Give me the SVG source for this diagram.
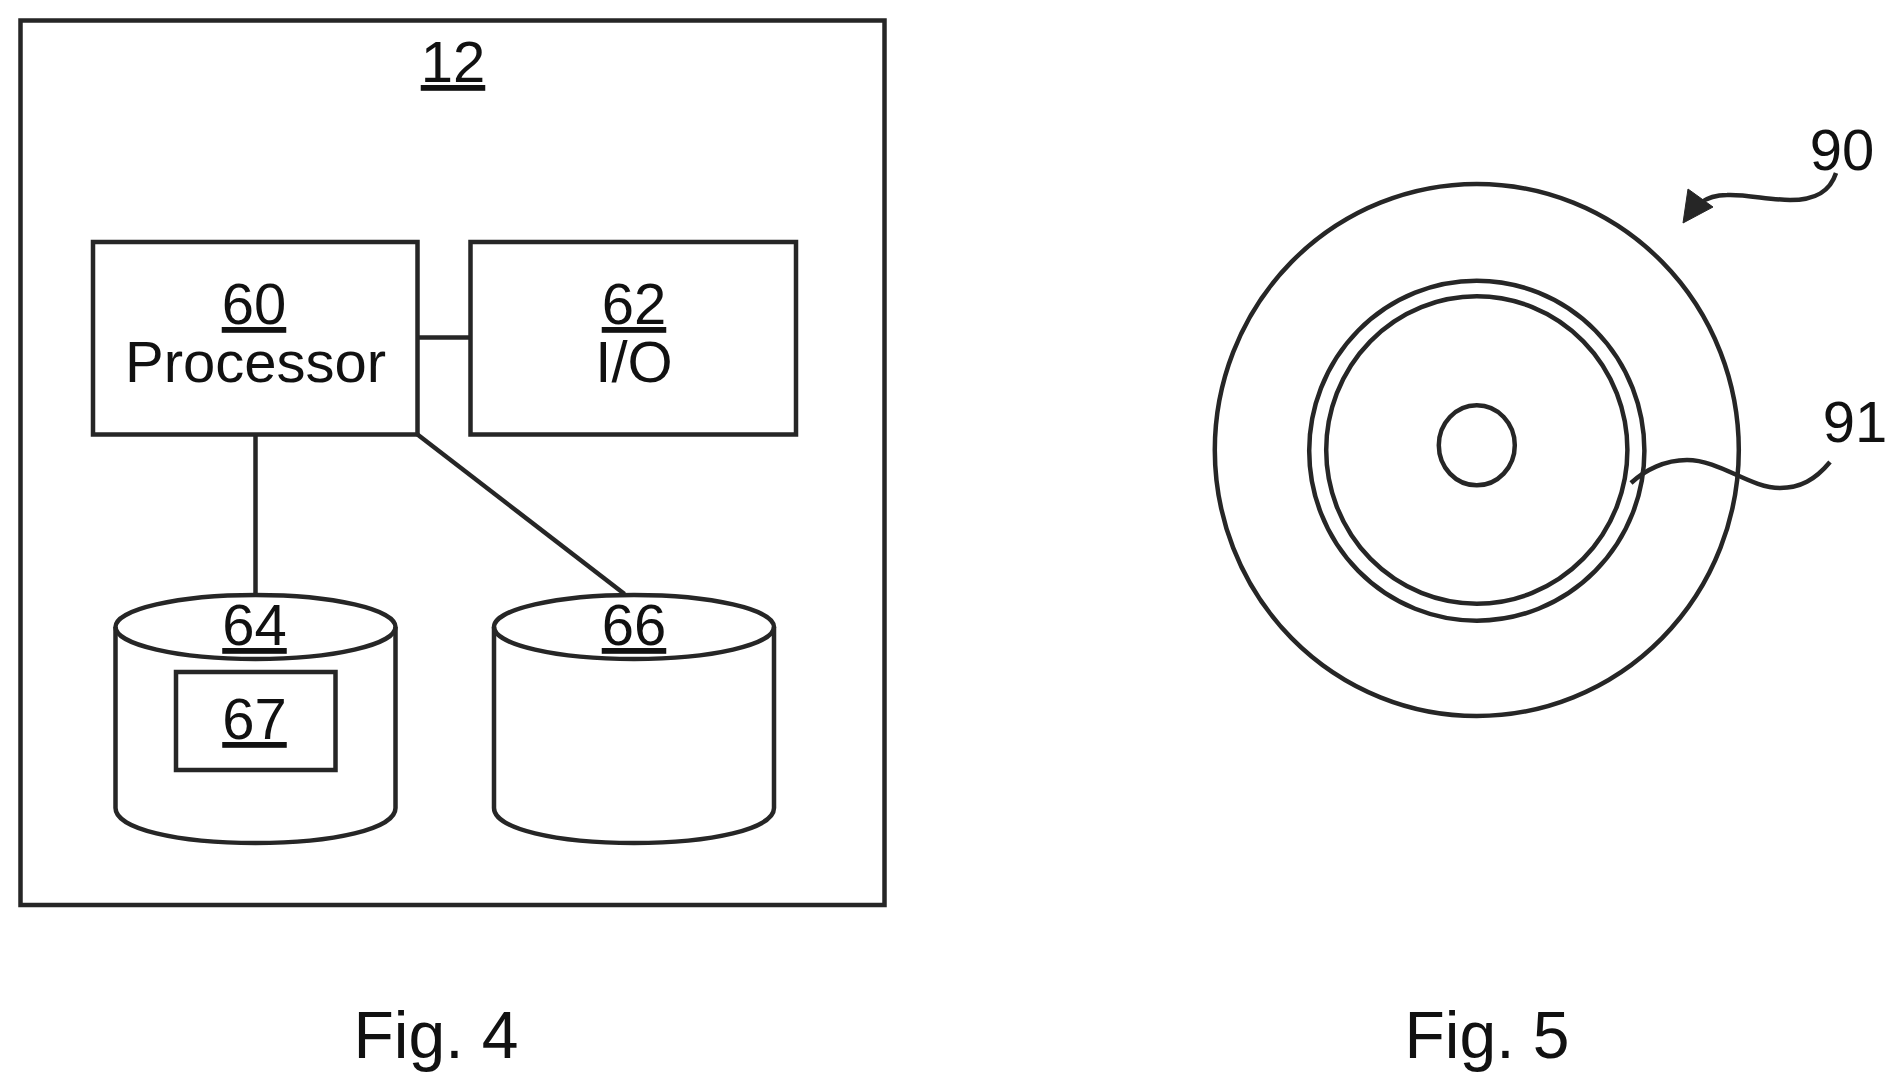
<svg xmlns="http://www.w3.org/2000/svg" width="1898" height="1091" viewBox="0 0 1898 1091">
<style>
.s{fill:none;stroke:#262626;stroke-width:4.5}
.t{font-family:"Liberation Sans",Arial,sans-serif;font-size:58px;fill:#111;text-anchor:middle}
.u{text-decoration:underline}
.f{font-size:66px}
</style>
<rect width="1898" height="1091" fill="#fff"/>
<g id="node-12"><rect class="s" x="20.5" y="20.5" width="864" height="884.5"/><text class="t u" x="453" y="82">12</text></g>
<g id="connectors">
<path class="s" d="M417.5,337.5H470.5"/>
<path class="s" d="M255.5,434.5V595"/>
<path class="s" d="M417.5,434.5L624.5,594"/>
<path class="s" d="M1836,173C1830,192 1815,200 1790,200C1770,200 1745,194 1727,195C1715,195 1707,198 1700,203"/>
<path class="s" d="M1830,462C1815,480 1800,488 1780,488C1750,488 1720,460 1687,460C1665,460 1645,470 1631,483"/>
<path d="M1683,223L1688,189L1713,207Z" fill="#262626" stroke="#262626" stroke-width="1"/>
</g>
<g id="node-60"><rect class="s" x="93" y="242" width="324.500" height="192.500"/><text class="t u" x="254" y="324">60</text><text class="t" x="255.500" y="382">Processor</text></g>
<g id="node-62"><rect class="s" x="470.500" y="242" width="325.500" height="192.500"/><text class="t u" x="634" y="324">62</text><text class="t" x="634" y="382">I/O</text></g>
<g id="node-64"><path class="s" d="M115.500,627V808C115.500,829 178,843 255.500,843C333,843 395.500,829 395.500,808V627"/><ellipse class="s" cx="255.500" cy="627" rx="140" ry="32"/><text class="t u" x="254.500" y="645">64</text></g>
<g id="node-67"><rect class="s" x="176" y="672" width="159.500" height="98"/><text class="t u" x="254.500" y="739">67</text></g>
<g id="node-66"><path class="s" d="M494,627V808C494,829 557,843 634,843C711,843 774,829 774,808V627"/><ellipse class="s" cx="634" cy="627" rx="140" ry="32"/><text class="t u" x="634" y="645">66</text></g>
<g id="node-90"><ellipse class="s" cx="1476.800" cy="450" rx="262" ry="266"/><ellipse class="s" cx="1476.800" cy="450.700" rx="167.600" ry="170"/><ellipse class="s" cx="1476.800" cy="450" rx="150.600" ry="153.700"/><ellipse class="s" cx="1476.800" cy="445.300" rx="38" ry="40"/><text class="t" x="1842" y="170">90</text></g>
<g id="label-91"><text class="t" x="1855" y="442">91</text></g>
<text class="t f" x="436" y="1058">Fig. 4</text>
<text class="t f" x="1487" y="1058">Fig. 5</text>
</svg>
